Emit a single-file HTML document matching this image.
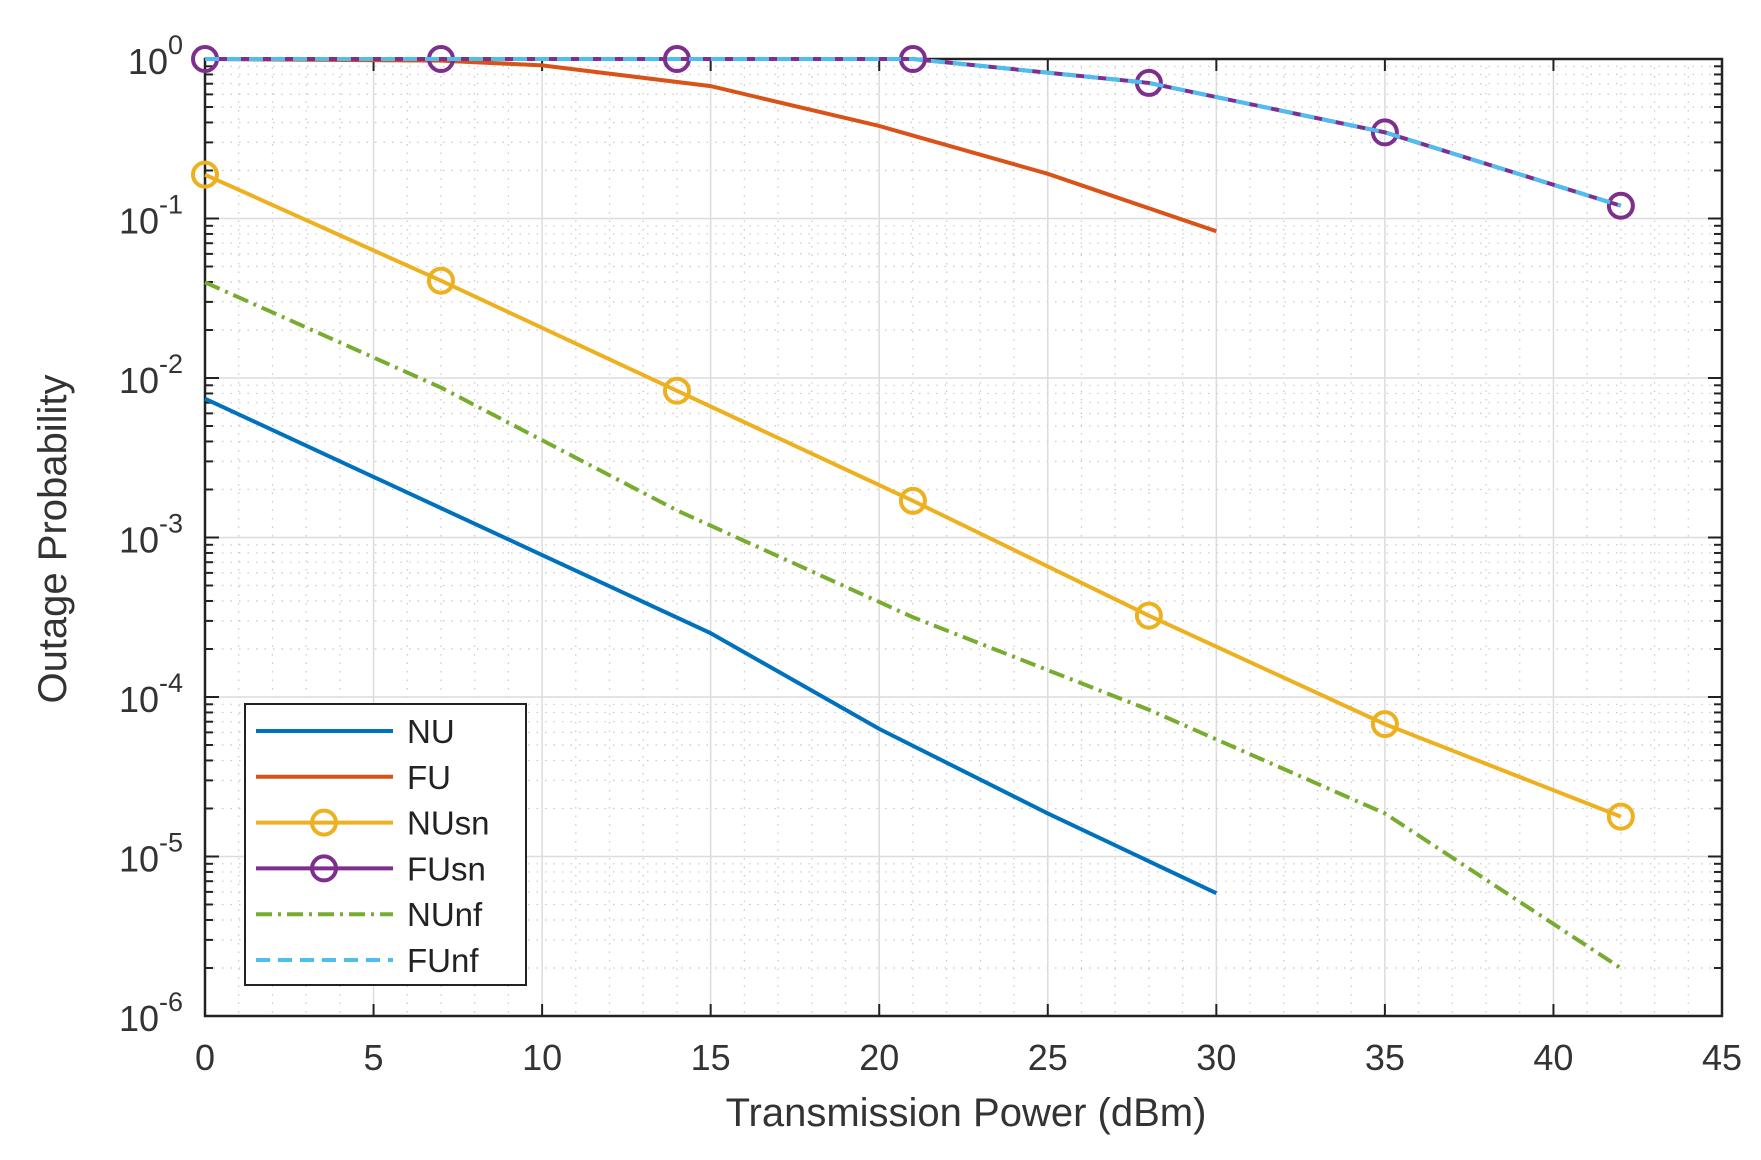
<!DOCTYPE html>
<html><head><meta charset="utf-8"><style>
html,body{margin:0;padding:0;background:#fff;}
svg{display:block;font-family:"Liberation Sans",Arial,sans-serif;}
</style></head><body>
<svg id="s" width="1761" height="1160" xmlns="http://www.w3.org/2000/svg"></svg>
<script>
const s=document.getElementById('s');
const X0=205,X1=1722,Y0=59,Y1=1016;
const px=x=>X0+(X1-X0)*x/45;
const py=d=>Y0+(Y1-Y0)*d/6;
let h='';
for(let x=1;x<45;x++){ if(x%5) h+=`<line x1="${px(x)}" y1="${Y0}" x2="${px(x)}" y2="${Y1}" stroke="#c8c8c8" stroke-width="1.2" stroke-dasharray="1.5,7"/>`;}
for(let d=0;d<6;d++){for(let m=2;m<10;m++){const y=py(d+1-Math.log10(m));h+=`<line x1="${X0}" y1="${y}" x2="${X1}" y2="${y}" stroke="#c8c8c8" stroke-width="1.2" stroke-dasharray="1.5,7"/>`;}}
for(let x=5;x<45;x+=5)h+=`<line x1="${px(x)}" y1="${Y0}" x2="${px(x)}" y2="${Y1}" stroke="#dcdcdc" stroke-width="1.5"/>`;
for(let d=1;d<6;d++)h+=`<line x1="${X0}" y1="${py(d)}" x2="${X1}" y2="${py(d)}" stroke="#dcdcdc" stroke-width="1.5"/>`;
for(let x=0;x<=45;x+=5){h+=`<line x1="${px(x)}" y1="${Y1}" x2="${px(x)}" y2="${Y1-12}" stroke="#222" stroke-width="2"/><line x1="${px(x)}" y1="${Y0}" x2="${px(x)}" y2="${Y0+12}" stroke="#222" stroke-width="2"/>`;
 h+=`<text x="${px(x)}" y="${Y1+54}" font-size="36" fill="#333" text-anchor="middle">${x}</text>`;}
for(let d=0;d<=6;d++){h+=`<line x1="${X0}" y1="${py(d)}" x2="${X0+14}" y2="${py(d)}" stroke="#222" stroke-width="2"/><line x1="${X1}" y1="${py(d)}" x2="${X1-14}" y2="${py(d)}" stroke="#222" stroke-width="2"/>`;
 h+=`<text x="${X0-22}" y="${py(d)+15}" font-size="36" fill="#333" text-anchor="end">10<tspan dy="-20" font-size="27">${d==0?'0':'-'+d}</tspan></text>`;
 if(d<6)for(let m=2;m<10;m++){const y=py(d+1-Math.log10(m));h+=`<line x1="${X0}" y1="${y}" x2="${X0+8}" y2="${y}" stroke="#222" stroke-width="2"/><line x1="${X1}" y1="${y}" x2="${X1-8}" y2="${y}" stroke="#222" stroke-width="2"/>`;}}
h+=`<rect x="${X0}" y="${Y0}" width="${X1-X0}" height="${Y1-Y0}" fill="none" stroke="#222" stroke-width="2.5"/>`;
function line(pts,col,dash,w){return `<polyline points="${pts.map(p=>px(p[0])+','+py(p[1])).join(' ')}" fill="none" stroke="${col}" stroke-width="${w||4}" ${dash?'stroke-dasharray="'+dash+'"':''}/>`;}
function marks(pts,col){return pts.map(p=>`<circle cx="${px(p[0])}" cy="${py(p[1])}" r="12" fill="none" stroke="${col}" stroke-width="4"/>`).join('');}
const NU=[[0,2.13],[5,2.62],[10,3.11],[15,3.6],[20,4.2],[25,4.73],[30,5.23]];
const FU=[[0,0],[7,0.01],[10,0.04],[15,0.17],[20,0.42],[25,0.72],[30,1.08]];
const NUsn=[[0,0.725],[7,1.39],[14,2.08],[21,2.77],[28,3.49],[35,4.17],[42,4.75]];
const FUsn=[[0,0],[7,0],[14,0],[21,0],[28,0.15],[35,0.46],[42,0.92]];
const NUnf=[[0,1.4],[7,2.06],[14,2.83],[21,3.5],[28,4.08],[35,4.73],[42,5.7]];
h+=line(NU,'#0072BD');h+=line(FU,'#D95319');
h+=line(NUsn,'#EDB120')+marks(NUsn,'#EDB120');
h+=line(FUsn,'#7E2F8E')+marks(FUsn,'#7E2F8E');
h+=line(NUnf,'#77AC30','16,6,3,6');
h+=line(FUsn,'#4DBEEE','14,8');
h+=`<rect x="245" y="704" width="281" height="281" fill="#fff" stroke="#222" stroke-width="2"/>`;
const L=[['NU','#0072BD',0,0],['FU','#D95319',0,0],['NUsn','#EDB120',0,1],['FUsn','#7E2F8E',0,1],['NUnf','#77AC30','16,6,3,6',0],['FUnf','#4DBEEE','14,8',0]];
L.forEach((e,i)=>{const y=731+i*45.8;h+=`<line x1="256" y1="${y}" x2="393" y2="${y}" stroke="${e[1]}" stroke-width="4" ${e[2]?'stroke-dasharray="'+e[2]+'"':''}/>`;
 if(e[3])h+=`<circle cx="324" cy="${y}" r="12" fill="none" stroke="${e[1]}" stroke-width="4"/>`;
 h+=`<text x="407" y="${y+12}" font-size="33" fill="#222">${e[0]}</text>`;});
h+=`<text x="966" y="1126" font-size="40" fill="#333" text-anchor="middle">Transmission Power (dBm)</text>`;
h+=`<text transform="translate(66,539) rotate(-90)" font-size="40" fill="#333" text-anchor="middle">Outage Probability</text>`;
s.innerHTML=h;
</script>
</body></html>
